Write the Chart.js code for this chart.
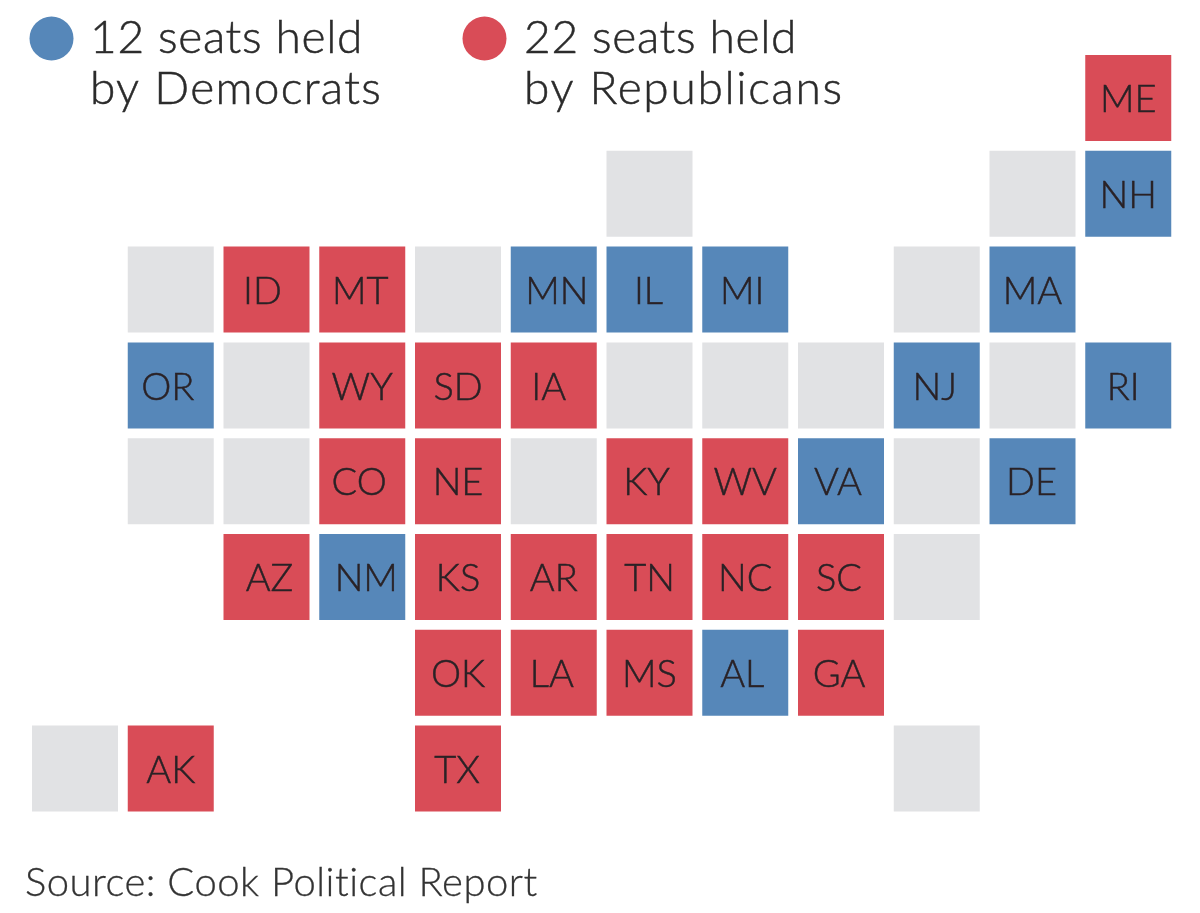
<!DOCTYPE html>
<html><head><meta charset="utf-8">
<style>html,body{margin:0;padding:0;background:#fff}#w{position:relative;width:1200px;height:913px}canvas{display:block}</style>
<script src="https://cdn.jsdelivr.net/npm/chart.js@4/dist/chart.umd.min.js"></script>
</head><body><div id="w"><canvas id="c" width="1200" height="913"></canvas></div>
<script>
const demLabels=["NH","MN","IL","MI","MA","OR","NJ","RI","VA","DE","NM","AL"];
const demCols=[11,5,6,7,10,1,9,11,8,10,3,7];
const demRows=[1,2,2,2,2,3,3,3,4,4,5,6];
const repLabels=["ME","ID","MT","WY","SD","IA","CO","NE","KY","WV","AZ","KS","AR","TN","NC","SC","OK","LA","MS","GA","AK","TX"];
const repCols=[11,2,3,3,4,5,3,4,6,7,2,4,5,6,7,8,4,5,6,8,1,4];
const repRows=[0,2,2,3,3,3,4,4,4,4,5,5,5,5,5,5,6,6,6,6,7,7];
const noneCols=[6,10,1,4,9,2,6,7,8,10,1,2,5,9,9,0,9];
const noneRows=[1,1,2,2,2,3,3,3,3,3,4,4,4,4,5,7,7];
const legendLines=[["12 seats held","by Democrats"],["22 seats held","by Republicans"]];
const sourceText="Source: Cook Political Report";
const BLUE="#5687b9",RED="#d94c57",GRAY="#e1e2e4",INK="#2b2b2b",FONT="Lato";
const labelNudge={ID:-4,OR:-3,RI:-5,IA:-5,IL:-1,MI:-3,NJ:-2,MN:3,NM:4,AZ:3,GA:-2,AL:-3,LA:-2,VA:-3,MT:-2,CO:-3,SC:-2,KY:-3,DE:-1,TX:-1};
const pts=(c,r)=>c.map((x,i)=>({x,y:r[i]}));
const P=95.75,PY=95.8,R=43*Math.SQRT2;
function heavy(g,t,x,y,w){g.fillText(t,x,y);g.lineWidth=w;g.strokeStyle=g.fillStyle;g.strokeText(t,x,y);}
const overlay={id:"overlay",afterDatasetsDraw(ch){
  const g=ch.ctx;g.save();g.fillStyle="#2a2226";g.textBaseline="middle";g.textAlign="center";
  g.font="300 38px "+FONT;g.letterSpacing="0px";
  [[0,demLabels],[1,repLabels]].forEach(([d,l])=>{
    ch.getDatasetMeta(d).data.forEach((e,i)=>heavy(g,l[i],e.x+(labelNudge[l[i]]||0),e.y+2,0.5));
  });
  g.textAlign="left";g.textBaseline="alphabetic";
  g.fillStyle=BLUE;g.beginPath();g.arc(51.5,38.5,22,0,7);g.fill();
  g.fillStyle=RED;g.beginPath();g.arc(484.5,38.5,22,0,7);g.fill();
  g.fillStyle=INK;g.font="300 46px "+FONT;
  g.letterSpacing="0.7px";
  heavy(g,legendLines[0][0],90,53,0.5);heavy(g,legendLines[1][0],524,53,0.5);
  g.letterSpacing="1.3px";heavy(g,legendLines[0][1],90,104,0.5);
  g.letterSpacing="1.7px";heavy(g,legendLines[1][1],524,104,0.5);
  g.font="300 40px "+FONT;g.fillStyle="#333";g.letterSpacing="0.5px";
  heavy(g,sourceText,25,896,0.3);
  g.restore();
}};
new Chart(document.getElementById("c"),{type:"scatter",
 data:{datasets:[
  {label:"Democrats",data:pts(demCols,demRows),backgroundColor:BLUE},
  {label:"Republicans",data:pts(repCols,repRows),backgroundColor:RED},
  {label:"No race",data:pts(noneCols,noneRows),backgroundColor:GRAY}
 ]},
 options:{responsive:false,animation:false,devicePixelRatio:1,
  layout:{padding:0,autoPadding:false},
  elements:{point:{pointStyle:"rect",radius:R,hoverRadius:R,borderWidth:0}},
  plugins:{legend:{display:false},tooltip:{enabled:false}},
  scales:{
   x:{type:"linear",display:false,min:-75/P,max:(1200-75)/P},
   y:{type:"linear",display:false,reverse:true,min:-98/PY,max:(913-98)/PY}
  }},
 plugins:[overlay]});
</script></body></html>
